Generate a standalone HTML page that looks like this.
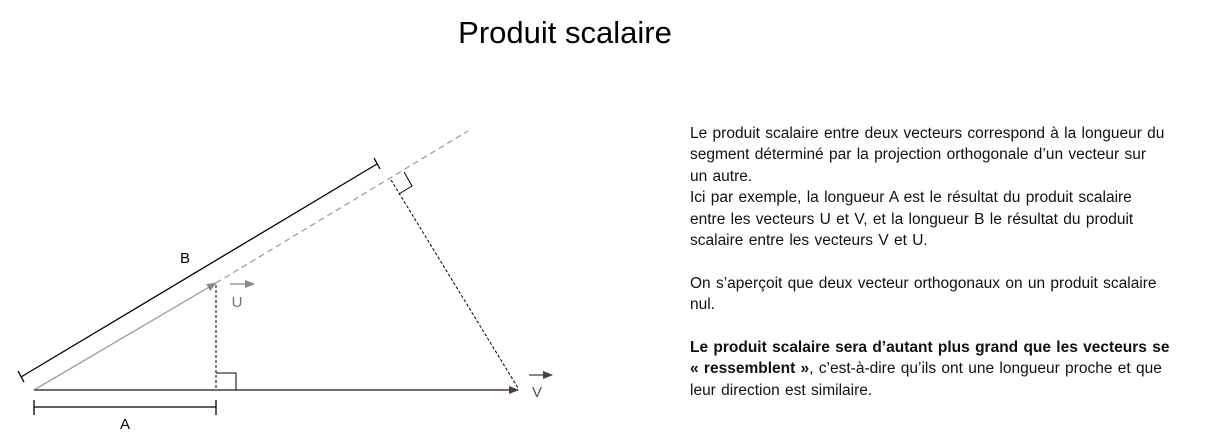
<!DOCTYPE html>
<html><head><meta charset="utf-8"><style>
body{margin:0;width:1209px;height:436px;background:#fff;overflow:hidden;position:relative;font-family:"Liberation Sans",sans-serif;}
.t{position:absolute;left:0;width:1130px;top:15px;text-align:center;font-size:31px;color:#000;}
.p{position:absolute;left:690px;top:123px;width:520px;font-size:15.5px;line-height:21.4px;color:#111;white-space:nowrap;word-spacing:1px;}
</style></head><body>
<div class="t">Produit scalaire</div>
<svg width="1209" height="436" style="position:absolute;left:0;top:0" font-family="Liberation Sans">
<defs>
<marker id="ag" markerWidth="10" markerHeight="8" refX="9" refY="4" orient="auto" markerUnits="userSpaceOnUse"><path d="M0,0L10,4L0,8z" fill="#888"/></marker>
<marker id="ad" markerWidth="10" markerHeight="8" refX="9" refY="4" orient="auto" markerUnits="userSpaceOnUse"><path d="M0,0L10,4L0,8z" fill="#4a3c3c"/></marker>
</defs>
<line x1="216" y1="283" x2="468" y2="131" stroke="#999" stroke-width="1.2" stroke-dasharray="6,4"/>
<line x1="34" y1="390" x2="216" y2="283" stroke="#999" stroke-width="1.3" marker-end="url(#ag)"/>
<line x1="34" y1="390" x2="518" y2="390" stroke="#4a3c3c" stroke-width="1.5" marker-end="url(#ad)"/>
<line x1="216" y1="285" x2="216" y2="390" stroke="#000" stroke-width="1" stroke-dasharray="3,2"/>
<polyline points="216,373 236,373 236,390" fill="none" stroke="#000" stroke-width="1"/>
<line x1="391" y1="180" x2="518" y2="388" stroke="#000" stroke-width="1" stroke-dasharray="3,2"/>
<polyline points="404,172 412,186 399,194" fill="none" stroke="#000" stroke-width="1"/>
<line x1="21" y1="377" x2="377" y2="164" stroke="#000" stroke-width="1.3"/>
<line x1="18" y1="371" x2="24" y2="382" stroke="#000" stroke-width="1.3"/>
<line x1="374" y1="158" x2="380" y2="169" stroke="#000" stroke-width="1.3"/>
<line x1="34" y1="407" x2="216" y2="407" stroke="#000" stroke-width="1.3"/>
<line x1="34" y1="400" x2="34" y2="415" stroke="#000" stroke-width="1.3"/>
<line x1="216" y1="400" x2="216" y2="415" stroke="#000" stroke-width="1.3"/>
<text x="125" y="429" font-size="15" text-anchor="middle">A</text>
<text x="185" y="263" font-size="15" text-anchor="middle">B</text>
<line x1="230" y1="284" x2="254" y2="284" stroke="#888" stroke-width="1.2" marker-end="url(#ag)"/>
<text x="237" y="307" font-size="15" fill="#777" text-anchor="middle">U</text>
<line x1="529" y1="375" x2="552" y2="375" stroke="#4a3c3c" stroke-width="1.2" marker-end="url(#ad)"/>
<text x="537" y="397" font-size="15" fill="#555" text-anchor="middle">V</text>
</svg>
<div class="p">Le produit scalaire entre deux vecteurs correspond à la longueur du<br>segment déterminé par la projection orthogonale d’un vecteur sur<br>un autre.<br>Ici par exemple, la longueur A est le résultat du produit scalaire<br>entre les vecteurs U et V, et la longueur B le résultat du produit<br>scalaire entre les vecteurs V et U.<br><br>On s’aperçoit que deux vecteur orthogonaux on un produit scalaire<br>nul.<br><br><b>Le produit scalaire sera d’autant plus grand que les vecteurs se<br>« ressemblent »</b>, c’est-à-dire qu’ils ont une longueur proche et que<br>leur direction est similaire.</div>
</body></html>
